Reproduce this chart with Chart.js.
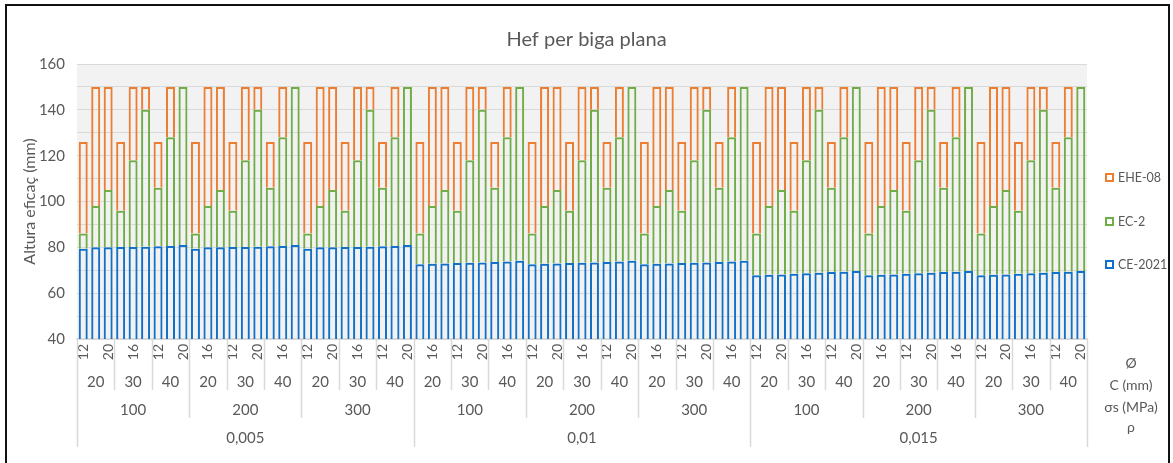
<!DOCTYPE html>
<html>
<head>
<meta charset="utf-8">
<script src="https://cdn.jsdelivr.net/npm/chart.js@4.4.1/dist/chart.umd.min.js"></script>
<style>
html,body{margin:0;padding:0;background:#fff;overflow:hidden;width:1173px;height:463px;}
#wrap{position:absolute;left:0;top:0;width:1173px;height:463px;}
#frame{position:absolute;left:5px;top:4px;width:1161px;height:480px;border:2px solid #111;pointer-events:none;}
canvas{position:absolute;left:0;top:0;}
</style>
</head>
<body>
<div id="wrap">
<canvas id="c" width="1173" height="463"></canvas>
<div id="frame"></div>
</div>
<script>
// Hierarchy of category levels
const rhoLabels = ['0,005', '0,01', '0,015'];
const sigmaLabels = ['100', '200', '300'];
const cLabels = ['20', '30', '40'];
const phiLabels = ['12', '16', '20'];

// CE-2021 effective depth (mm), 81 bars
const ceValues = [
  79.4, 80.0, 80.0, 80.2, 80.2, 80.3, 80.5, 80.6, 81.0,
  79.4, 80.0, 80.0, 80.2, 80.2, 80.3, 80.5, 80.6, 81.0,
  79.4, 80.0, 80.0, 80.2, 80.2, 80.3, 80.5, 80.6, 81.0,
  72.6, 72.8, 73.0, 73.2, 73.3, 73.4, 73.6, 73.8, 74.1,
  72.6, 72.8, 73.0, 73.2, 73.3, 73.4, 73.6, 73.8, 74.1,
  72.6, 72.8, 73.0, 73.2, 73.3, 73.4, 73.6, 73.8, 74.1,
  67.8, 68.0, 68.2, 68.5, 68.7, 68.9, 69.2, 69.4, 69.7,
  67.8, 68.0, 68.2, 68.5, 68.7, 68.9, 69.2, 69.4, 69.7,
  67.8, 68.0, 68.2, 68.5, 68.7, 68.9, 69.2, 69.4, 69.7
];
// EC-2 effective depth (mm)
const ec2Values = [
  86, 98, 105, 96, 118, 140, 106, 128, 150,
  86, 98, 105, 96, 118, 140, 106, 128, 150,
  86, 98, 105, 96, 118, 140, 106, 128, 150,
  86, 98, 105, 96, 118, 140, 106, 128, 150,
  86, 98, 105, 96, 118, 140, 106, 128, 150,
  86, 98, 105, 96, 118, 140, 106, 128, 150,
  86, 98, 105, 96, 118, 140, 106, 128, 150,
  86, 98, 105, 96, 118, 140, 106, 128, 150,
  86, 98, 105, 96, 118, 140, 106, 128, 150
];
// EHE-08 effective depth (mm)
const eheValues = [
  126, 150, 150, 126, 150, 150, 126, 150, 150,
  126, 150, 150, 126, 150, 150, 126, 150, 150,
  126, 150, 150, 126, 150, 150, 126, 150, 150,
  126, 150, 150, 126, 150, 150, 126, 150, 150,
  126, 150, 150, 126, 150, 150, 126, 150, 150,
  126, 150, 150, 126, 150, 150, 126, 150, 150,
  126, 150, 150, 126, 150, 150, 126, 150, 150,
  126, 150, 150, 126, 150, 150, 126, 150, 150,
  126, 150, 150, 126, 150, 150, 126, 150, 150
];
const yTicks = [40, 60, 80, 100, 120, 140, 160];
const axisTitles = ['Ø', 'C (mm)', 'σs (MPa)', 'ρ'];

// Build the flat category list (finest level = Ø)
const categories = [];
rhoLabels.forEach(() => sigmaLabels.forEach(() => cLabels.forEach(() => phiLabels.forEach(p => categories.push(p)))));

const FONT = 'Lato, "Open Sans", sans-serif';
const TXT = '#595959';
const GRID = '#D9D9D9';
const BLUE = '#1170C8', GREEN = '#70AD47', ORANGE = '#ED7D31';

const bgPlugin = {
  id: 'plotBg',
  beforeDraw(chart) {
    const a = chart.chartArea, ctx = chart.ctx;
    ctx.save();
    ctx.fillStyle = '#F2F2F2';
    ctx.fillRect(a.left, a.top, a.right - a.left, a.bottom - a.top);
    ctx.restore();
  }
};

const groupPlugin = {
  id: 'groups',
  afterDraw(chart) {
    const ctx = chart.ctx, xs = chart.scales.x, a = chart.chartArea;
    const n = categories.length;
    const half = (xs.getPixelForValue(1) - xs.getPixelForValue(0)) / 2;
    const edge = i => (i >= n ? xs.getPixelForValue(n - 1) + half : xs.getPixelForValue(i) - half);
    const nC = phiLabels.length, nS = nC * cLabels.length, nR = nS * sigmaLabels.length;
    ctx.save();
    ctx.strokeStyle = GRID;
    ctx.lineWidth = 1.5;
    for (let i = 0; i <= n; i += nC) {
      let depth = 390;
      if (i % nR === 0) depth = 447; else if (i % nS === 0) depth = 418;
      const x = Math.round(edge(i)) + 0.5;
      ctx.beginPath(); ctx.moveTo(x, a.bottom); ctx.lineTo(x, depth); ctx.stroke();
    }
    ctx.fillStyle = TXT;
    ctx.textAlign = 'center';
    ctx.textBaseline = 'middle';
    ctx.font = '15px ' + FONT;
    for (let g = 0; g < n / nC; g++) {
      const cx = (edge(g * nC) + edge(g * nC + nC)) / 2;
      ctx.fillText(cLabels[g % cLabels.length], cx, 382);
    }
    for (let g = 0; g < n / nS; g++) {
      const cx = (edge(g * nS) + edge(g * nS + nS)) / 2;
      ctx.fillText(sigmaLabels[g % sigmaLabels.length], cx, 410);
    }
    for (let g = 0; g < n / nR; g++) {
      const cx = (edge(g * nR) + edge(g * nR + nR)) / 2;
      ctx.fillText(rhoLabels[g], cx, 438);
    }
    // axis level names at the right
    const ys = [363, 385, 407, 427];
    ctx.font = '14px ' + FONT;
    axisTitles.forEach((t, k) => ctx.fillText(t, 1131, ys[k]));
    // legend (reversed order)
    ctx.font = '12.5px ' + FONT;
    ctx.textAlign = 'left';
    const ly = [178, 222, 265];
    const ds = chart.data.datasets.slice().reverse();
    ds.forEach((d, k) => {
      ctx.strokeStyle = d.borderColor;
      ctx.lineWidth = 2;
      ctx.strokeRect(1106, ly[k] - 4, 7, 7);
      ctx.fillStyle = TXT;
      ctx.fillText(d.label, 1118, ly[k]);
    });
    ctx.restore();
  }
};

new Chart(document.getElementById('c'), {
  type: 'bar',
  data: {
    labels: categories,
    datasets: [
      { label: 'CE-2021', data: ceValues, borderColor: BLUE, backgroundColor: 'rgba(0,0,0,0)', borderSkipped: false },
      { label: 'EC-2', data: ec2Values.map((v, i) => [ceValues[i], v]), borderColor: GREEN, backgroundColor: 'rgba(0,0,0,0)', borderSkipped: 'bottom' },
      { label: 'EHE-08', data: eheValues.map((v, i) => [ec2Values[i], v]), borderColor: ORANGE, backgroundColor: 'rgba(0,0,0,0)', borderSkipped: 'bottom' }
    ]
  },
  options: {
    responsive: false,
    animation: false,
    events: [],
    layout: { padding: { left: 0, right: 0, top: 14, bottom: 0 } },
    datasets: {
      bar: { borderWidth: 2, barPercentage: 0.72, categoryPercentage: 1, inflateAmount: 0 }
    },
    plugins: {
      legend: { display: false },
      tooltip: { enabled: false },
      title: {
        display: true, text: 'Hef per biga plana', color: TXT,
        font: { family: FONT, size: 20, weight: 'normal' },
        padding: { top: 14, bottom: 12 }
      }
    },
    scales: {
      x: {
        stacked: true,
        grid: { display: false, drawTicks: false },
        border: { display: true, color: GRID, width: 1.5 },
        ticks: {
          autoSkip: false, minRotation: 90, maxRotation: 90, padding: 5,
          color: TXT, font: { family: FONT, size: 14 },
          callback: function (v, i) { return i % 2 === 0 ? this.getLabelForValue(v) : ''; }
        },
        afterFit(s) { s.height = 124; }
      },
      y: {
        stacked: false,
        min: 40, max: 160,
        grid: { color: GRID, lineWidth: 1, drawTicks: false },
        border: { display: false },
        ticks: {
          stepSize: 5, padding: 12, color: TXT, font: { family: FONT, size: 15 },
          callback: v => (yTicks.includes(v) ? String(v) : '')
        },
        title: {
          display: true, text: 'Altura eficaç (mm)', color: TXT,
          font: { family: FONT, size: 16 }, padding: { top: 20, bottom: 0 }
        },
        afterFit(s) { s.width = 77; }
      },
      side: {
        type: 'linear', position: 'right', display: true,
        grid: { display: false, drawTicks: false },
        border: { display: false },
        ticks: { display: false },
        afterFit(s) { s.width = 86; }
      }
    }
  },
  plugins: [bgPlugin, groupPlugin]
});
</script>
</body>
</html>
